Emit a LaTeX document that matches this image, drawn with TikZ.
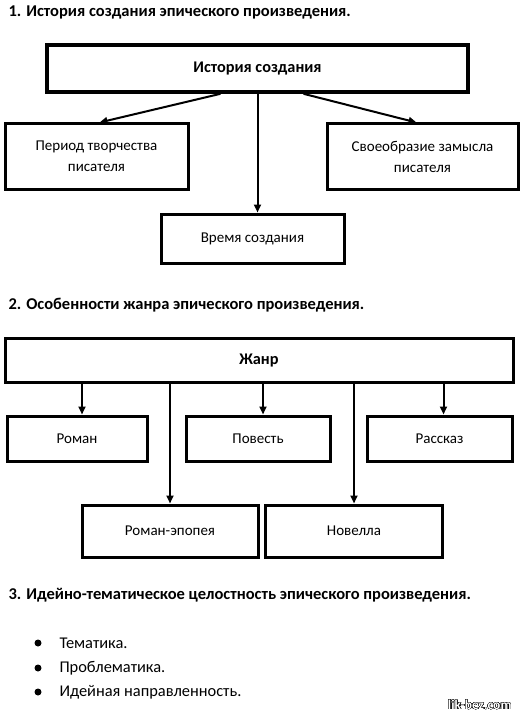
\documentclass[tikz,border=0pt]{standalone}
\usepackage{fontspec}
\setmainfont{Carlito}
\usepackage{xcolor}
\usepackage{contour}
\usetikzlibrary{positioning, arrows.meta}
\tikzset{
  heading/.style={anchor=west, font=\fontsize{16.5}{19}\selectfont\bfseries},
  box/.style={draw, line width=3pt, align=center, font=\fontsize{15}{21}\selectfont},
  headbox/.style={box, line width=3.6pt, font=\fontsize{16.3}{19}\selectfont\bfseries},
  arr/.style={line width=2pt, -{Triangle[length=8pt,width=7pt]}},
  dot/.style={circle, fill, inner sep=0pt, minimum size=7pt},
  item/.style={anchor=west, font=\fontsize{16.4}{19}\selectfont}
}

\begin{document}
\begin{tikzpicture}[x=1pt, y=-1pt]
    \useasboundingbox (0,0) rectangle (532,714);

    \node[heading] (titleone) at (5,12) {1. История создания эпического произведения.};
    \node[headbox, minimum width=421pt, minimum height=47pt] (history) at (257.5,68.5) {История создания};
    \node[box, minimum width=183pt, minimum height=65pt] (period) at (96.5,156.5) {Период творчества\\писателя};
    \node[box, minimum width=191pt, minimum height=65pt] (idea) at (422.5,156.5) {Своеобразие замысла\\писателя};
    \node[box, minimum width=183pt, minimum height=49pt] (time) at (252.5,238.5) {Время создания};
    \draw[arr] ([xshift=-37pt]history.south) -- ([xshift=3pt]period.north);
    \draw[arr] (history.south) -- (history.south |- time.north);
    \draw[arr] ([xshift=46pt]history.south) -- ([xshift=-6pt]idea.north);

    \node[heading] (titletwo) at (5,305) {2. Особенности жанра эпического произведения.};
    \node[headbox, line width=3pt, minimum width=508pt, minimum height=44pt] (genre) at (259,360) {Жанр};
    \node[box, minimum width=140pt, minimum height=45pt] (novel) at (77,438.5) {Роман};
    \node[box, minimum width=144pt, minimum height=45pt] (story) at (258,438.5) {Повесть};
    \node[box, minimum width=145pt, minimum height=45pt] (tale) at (439.5,438.5) {Рассказ};
    \node[box, minimum width=176pt, minimum height=52pt] (epic) at (170,531) {Роман-эпопея};
    \node[box, minimum width=177pt, minimum height=52pt] (novella) at (354,531) {Новелла};
    \draw[arr] ([xshift=5pt]novel.north |- genre.south) -- ([xshift=5pt]novel.north);
    \draw[arr] ([xshift=5pt]story.north |- genre.south) -- ([xshift=5pt]story.north);
    \draw[arr] ([xshift=4pt]tale.north |- genre.south) -- ([xshift=4pt]tale.north);
    \draw[arr] (epic.north |- genre.south) -- (epic.north);
    \draw[arr] (novella.north |- genre.south) -- (novella.north);

    \node[heading] (titlethree) at (5,595) {3. Идейно-тематическое целостность эпического произведения.};
    \node[dot] (dotone) at (38,643) {};
    \node[dot] (dottwo) at (38,668) {};
    \node[dot] (dotthree) at (38,692) {};
    \node[item] (theme) at (56,643) {Тематика.};
    \node[item] (problem) at (56,668) {Проблематика.};
    \node[item] (direction) at (56,692) {Идейная направленность.};

    \node[anchor=east, font=\fontsize{13.5}{14}\selectfont\bfseries] (mark) at (515,705) {\contour{black}{\textcolor{white}{lik-bez.com}}};
  \end{tikzpicture}
\end{document}
